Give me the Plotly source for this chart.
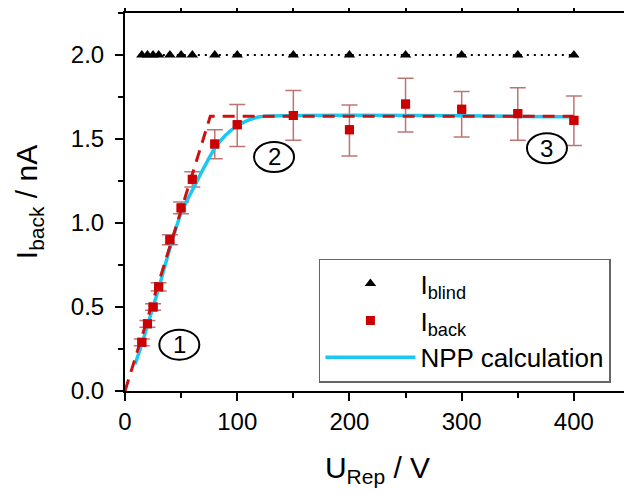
import plotly.graph_objects as go

# ---- data ----
u_blind = [15, 20, 25, 30, 40, 50, 60, 80, 100, 150, 200, 250, 300, 350, 400]
i_blind = [2.0] * len(u_blind)

u_back = [15, 20, 25, 30, 40, 50, 60, 80, 100, 150, 200, 250, 300, 350, 400]
i_back = [0.29, 0.40, 0.50, 0.62, 0.90, 1.09, 1.26, 1.47, 1.585, 1.64, 1.555, 1.708, 1.677, 1.651, 1.611]
err_plus = [0.02, 0.02, 0.02, 0.025, 0.03, 0.035, 0.045, 0.085, 0.12, 0.149, 0.148, 0.153, 0.105, 0.154, 0.145]
err_minus = [0.02, 0.02, 0.02, 0.025, 0.03, 0.035, 0.045, 0.087, 0.13, 0.148, 0.156, 0.166, 0.165, 0.158, 0.150]

# piecewise-linear fit of I_back (dashed)
u_fit = [0, 76, 400]
i_fit = [0.0, 1.635, 1.635]

# NPP calculation
u_npp = [9, 15, 20, 25, 30, 40, 50, 60, 70, 80, 90, 100, 110, 120, 400]
i_npp = [0.16, 0.28, 0.39, 0.50, 0.61, 0.85, 1.06, 1.195, 1.325, 1.445, 1.525, 1.578, 1.612, 1.632, 1.632]

# region labels
region_text = ["1", "2", "3"]
region_u = [48.4, 132.8, 376]
region_i = [0.276, 1.393, 1.445]

FONT = "Liberation Sans, Arial, sans-serif"

fig = go.Figure()

# dotted connecting line for I_blind
fig.add_trace(go.Scatter(x=u_blind, y=i_blind, mode="lines",
                         line=dict(color="black", width=2, dash="2px,5px"),
                         showlegend=False, hoverinfo="skip"))
fig.add_trace(go.Scatter(x=u_blind, y=i_blind, mode="markers", name="I<sub>blind</sub>",
                         marker=dict(symbol="triangle-up", size=10, color="black")))

# I_back markers with error bars
fig.add_trace(go.Scatter(x=u_back, y=i_back, mode="markers", name="I<sub>back</sub>",
                         marker=dict(symbol="square", size=9, color="#CC0000"),
                         error_y=dict(type="data", symmetric=False, array=err_plus,
                                      arrayminus=err_minus, color="rgba(170,70,70,0.75)",
                                      thickness=1.5, width=8)))

# NPP calculation
fig.add_trace(go.Scatter(x=u_npp, y=i_npp, mode="lines", name="NPP calculation",
                         line=dict(color="#1CC8F2", width=3.5, shape="spline", smoothing=0.6)))

# dashed fit
fig.add_trace(go.Scatter(x=u_fit, y=i_fit, mode="lines", showlegend=False,
                         line=dict(color="#CC1111", width=3, dash="12px,8px")))

# re-draw markers on top
fig.add_trace(go.Scatter(x=u_back, y=i_back, mode="markers", showlegend=False,
                         marker=dict(symbol="square", size=9, color="#CC0000"), hoverinfo="skip"))

# circled region labels
for t, ux, iy in zip(region_text, region_u, region_i):
    fig.add_shape(type="circle", xref="x", yref="y", xsizemode="pixel", ysizemode="pixel",
                  xanchor=ux, yanchor=iy, x0=-20, x1=20, y0=-15, y1=15,
                  line=dict(color="black", width=2))
    fig.add_annotation(x=ux, y=iy, xref="x", yref="y", text=t, showarrow=False,
                       font=dict(family=FONT, size=24, color="black"))

axis_common = dict(showline=True, linecolor="black", linewidth=2, mirror="ticks",
                   ticks="outside", ticklen=8, tickwidth=2, tickcolor="black",
                   showgrid=False, zeroline=False, automargin=False,
                   tickfont=dict(family=FONT, size=24, color="black"))

fig.update_xaxes(range=[0, 450], dtick=100, tick0=0,
                 minor=dict(dtick=50, ticklen=5, tickwidth=2, tickcolor="black", ticks="outside"),
                 title=dict(text="U<sub>Rep</sub> / V", font=dict(family=FONT, size=30, color="black"),
                            standoff=23),
                 **axis_common)
fig.update_yaxes(range=[0, 2.25], dtick=0.5, tick0=0, tickformat=".1f", ticklabelstandoff=6,
                 minor=dict(dtick=0.25, ticklen=5, tickwidth=2, tickcolor="black", ticks="outside"),
                 title=dict(text="I<sub>back</sub> / nA", font=dict(family=FONT, size=30, color="black"),
                            standoff=24),
                 **axis_common)

# the page body adds an 8px margin, so the figure is sized to fit the window
fig.update_layout(
    width=624, height=487,
    margin=dict(l=117, r=2, t=5, b=103.5, autoexpand=False),
    paper_bgcolor="white", plot_bgcolor="white",
    font=dict(family=FONT, color="black"),
    legend=dict(x=0.384, y=0.35, xanchor="left", yanchor="top",
                bgcolor="white", bordercolor="#666666", borderwidth=1.5,
                font=dict(family=FONT, size=26, color="black"),
                itemwidth=90, tracegroupgap=0),
)

fig.write_html("out.html")
